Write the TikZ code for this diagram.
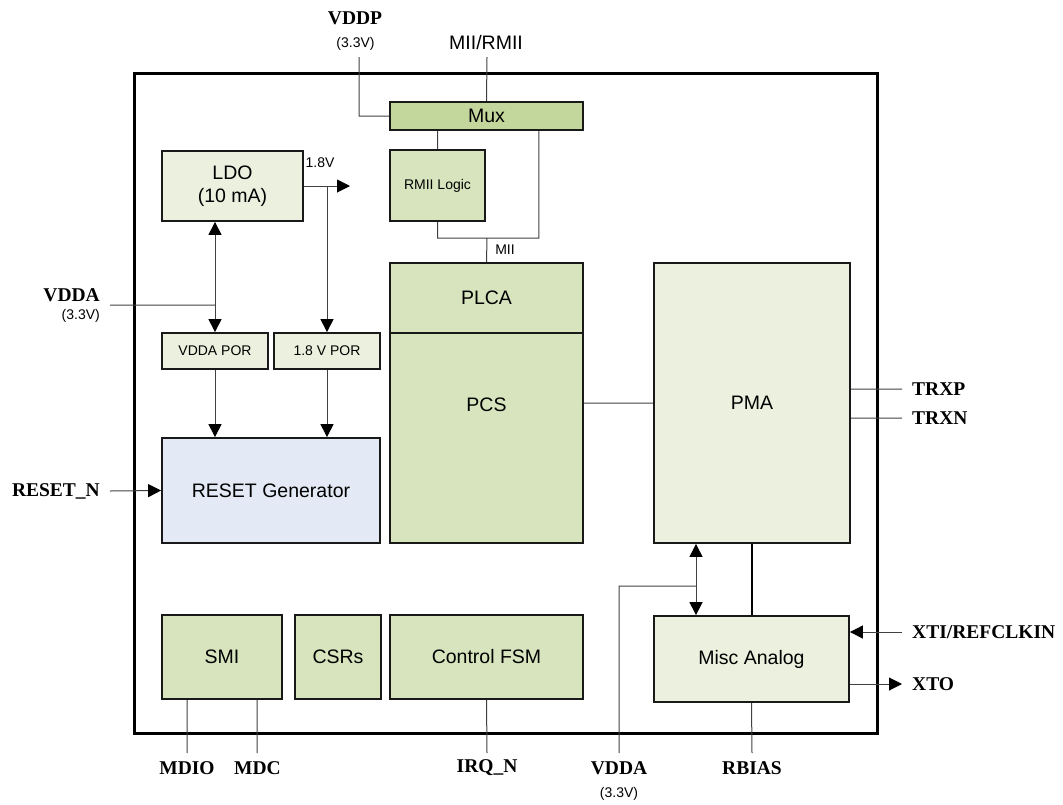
\documentclass[tikz,border=0pt]{standalone}
\usepackage{fontspec}
\setmainfont{Liberation Serif}
\setsansfont{Liberation Sans}
\usepackage{tikz}
\usetikzlibrary{arrows.meta,calc}

\definecolor{palegreen}{HTML}{EBF1DE}
\definecolor{leafgreen}{HTML}{D7E4BD}
\definecolor{muxgreen}{HTML}{C3D69B}
\definecolor{paleblue}{HTML}{E3EAF5}

\begin{document}
\begin{tikzpicture}[x=1pt,y=-1pt,>={Triangle[length=13pt,width=13pt,color=black]},
    wire/.style={draw=black!75,line width=1pt},
    box/.style={draw=black!90,line width=1.8pt,align=center,inner sep=0pt,
                font=\sffamily\fontsize{19.5}{23}\selectfont},
    dims/.style 2 args={minimum width=#1,minimum height=#2},
    pale node/.style={box,fill=palegreen},
    leaf node/.style={box,fill=leafgreen},
    small/.style={font=\sffamily\fontsize{14}{16}\selectfont,inner sep=0pt},
    pin/.style={font=\bfseries\fontsize{19.5}{22}\selectfont,inner sep=0pt}]

  \useasboundingbox (0,0) rectangle (1063,804);
  \draw[line width=3pt] (134,73) rectangle (877,733);

  % blocks
  \node[box,fill=muxgreen,dims={193}{28}] (mux) at (486.5,116) {Mux};
  \node[leaf node,dims={95}{71},small] (rmii) at (437.5,185.5) {RMII Logic};
  \node[pale node,dims={141}{70}] (ldo) at (232.5,186) {LDO\\(10 mA)};
  \node[pale node,dims={106}{36},small] (vpor) at (215,351) {VDDA POR};
  \node[pale node,dims={106}{36},small] (lpor) at (327,351) {1.8 V POR};
  \node[box,fill=paleblue,dims={218}{105}] (rst) at (271,490.5) {RESET Generator};
  \node[leaf node,dims={193}{70}] (plca) at (486.5,298) {PLCA};
  \node[leaf node,dims={193}{210}] (pcs) at (486.5,438) {};
  \node[font=\sffamily\fontsize{19.5}{23}\selectfont] (pcslbl) at (486.5,405) {PCS};
  \node[pale node,dims={196}{280}] (pma) at (752,403) {PMA};
  \node[pale node,dims={195}{86}] (misc) at (751.5,659) {Misc Analog};
  \node[leaf node,dims={120}{84}] (smi) at (222,657) {SMI};
  \node[leaf node,dims={86}{84}] (csr) at (338,657) {CSRs};
  \node[leaf node,dims={193}{84}] (fsm) at (486.5,657) {Control FSM};

  % pin labels
  \node[pin] (vddp) at (355,18) {VDDP};
  \node[small] (vddpv) at (355.5,44) {(3.3V)};
  \node[font=\sffamily\fontsize{19.5}{23}\selectfont,inner sep=0pt] (miirmii) at (486,43) {MII/RMII};
  \node[pin,anchor=east] (vddal) at (100,295) {VDDA};
  \node[small,anchor=east] (vddalv) at (100,316) {(3.3V)};
  \node[pin,anchor=east] (rstn) at (100,491) {RESET\_N};
  \node[pin,anchor=west] (trxp) at (912,389) {TRXP};
  \node[pin,anchor=west] (trxn) at (912,418) {TRXN};
  \node[pin,anchor=west] (xti) at (912,632) {XTI/REFCLKIN};
  \node[pin,anchor=west] (xto) at (912,684) {XTO};
  \node[pin] (mdio) at (187,768) {MDIO};
  \node[pin] (mdc) at (257.5,768) {MDC};
  \node[pin] (irqn) at (487,768) {IRQ\_N};
  \node[pin] (vddab) at (619,768) {VDDA};
  \node[small] (vddabv) at (619,794) {(3.3V)};
  \node[pin] (rbias) at (752,768) {RBIAS};
  \node[small] (v18lbl) at (320,163) {1.8V};
  \node[small] (miilbl) at (505,250) {MII};

  % connector ends
  \coordinate (vddpend) at (359,57);
  \coordinate (miirmiiend) at (487,57);
  \coordinate (mii) at (487,238);
  \coordinate (v18) at (350,186);
  \coordinate (vddalend) at (110,305);
  \coordinate (rstnend) at (110,491);
  \coordinate (trxpend) at (902,389);
  \coordinate (trxnend) at (902,418);
  \coordinate (xtiend) at (902,632);
  \coordinate (xtoend) at (902,684);
  \coordinate (vddaj) at (696,586);
  \coordinate (vddabend) at (619,753);
  \coordinate (mdioend) at (187,753);
  \coordinate (mdcend) at (257,753);
  \coordinate (irqnend) at (487,753);
  \coordinate (rbiasend) at (752,753);

  % connectors
  \path[wire]
    (vddpend) |- (mux.west)
    (miirmiiend) -- (mux.north)
    (mux.south -| rmii) -- (rmii.north)
    (rmii.south) |- (mii) -| ([xshift=-45pt]mux.south east)
    (mii) -- (plca.north)
    (vddalend) -- (vddalend -| vpor)
    (pma.west) -- (pma.west -| pcs.east)
    (trxpend -| pma.east) -- (trxpend)
    (trxnend -| pma.east) -- (trxnend)
    (vddabend) |- (vddaj)
    (smi.south -| mdioend) -- (mdioend)
    (smi.south -| mdcend) -- (mdcend)
    (fsm.south) -- (irqnend)
    (misc.south) -- (rbiasend);

  \draw[wire,->] (ldo.east) -- (v18);
  \draw[wire,->] (ldo.east -| lpor) -- (lpor.north);
  \draw[wire,<->] (ldo.south -| vpor) -- (vpor.north);
  \draw[wire,->] (vpor.south) -- (vpor.south |- rst.north);
  \draw[wire,->] (lpor.south) -- (lpor.south |- rst.north);
  \draw[wire,->] (rstnend) -- (rst.west);
  \draw[wire,<->] (vddaj |- pma.south) -- (vddaj |- misc.north);
  \draw[line width=1.8pt] (pma.south) -- (pma.south |- misc.north);
  \draw[wire,->] (xtiend) -- (xtiend -| misc.east);
  \draw[wire,->] (xtoend -| misc.east) -- (xtoend);
\end{tikzpicture}
\end{document}
